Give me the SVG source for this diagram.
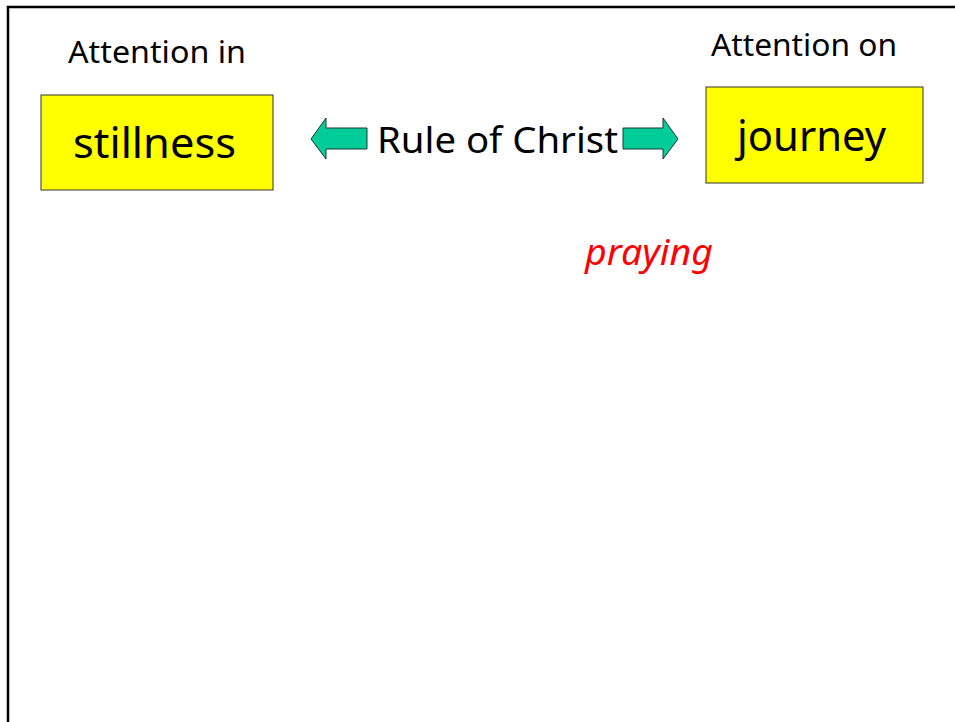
<svg xmlns="http://www.w3.org/2000/svg" width="955" height="722" viewBox="0 0 955 722">
<style>
.t{font-family:"Comic Sans MS","Noto Sans","DejaVu Sans",sans-serif;fill:#000}
.box{fill:#FFFF00;stroke:#333;stroke-width:1}
.arr{fill:#00CC99;stroke:#1a3a30;stroke-width:1}
</style>
<rect width="955" height="722" fill="#fff"/>
<path d="M8,722 V7 H955" fill="none" stroke="#000" stroke-width="2.5"/>
<g id="label-in"><text class="t" x="68" y="63" font-size="31" textLength="178" lengthAdjust="spacingAndGlyphs">Attention in</text></g>
<g id="stillness">
<rect class="box" x="41" y="95" width="232" height="95"/>
<text class="t" x="73" y="158" font-size="41" textLength="163" lengthAdjust="spacingAndGlyphs">stillness</text>
</g>
<g id="label-on"><text class="t" x="711" y="56" font-size="31" textLength="186" lengthAdjust="spacingAndGlyphs">Attention on</text></g>
<g id="journey">
<rect class="box" x="706" y="87" width="217" height="96"/>
<text class="t" x="737" y="151" font-size="42" textLength="149" lengthAdjust="spacingAndGlyphs">journey</text>
</g>
<g id="rule"><text class="t" x="377" y="153" font-size="37" textLength="241" lengthAdjust="spacingAndGlyphs">Rule of Christ</text></g>
<g id="connectors">
<polygon class="arr" points="311,139 326,118 326,128 367,128 367,149 326,149 326,159"/>
<polygon class="arr" points="678,139 663,118 663,128 623,128 623,149 663,149 663,159"/>
</g>
<g id="praying"><text class="t" x="585" y="265" font-size="37" font-style="italic" style="fill:#FF0000" textLength="128" lengthAdjust="spacingAndGlyphs">praying</text></g>
</svg>
